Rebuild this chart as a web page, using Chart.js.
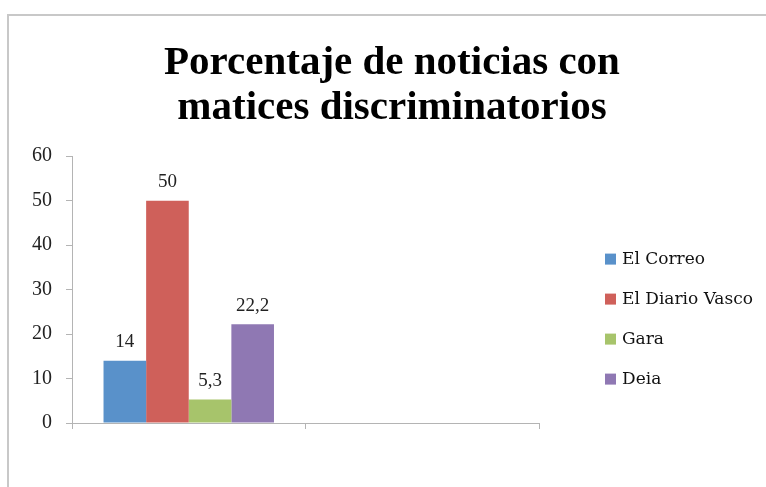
<!DOCTYPE html>
<html>
<head>
<meta charset="utf-8">
<script src="https://cdn.jsdelivr.net/npm/chart.js@4"></script>
<style>
  html, body { margin: 0; padding: 0; background: #fff; }
  #wrap { position: relative; width: 766px; height: 487px; }
  #frame { position: absolute; left: 7px; top: 14px; right: -4px; bottom: -4px;
           border-left: 2px solid #c8c8c8; border-top: 2px solid #c8c8c8; }
  canvas { position: absolute; left: 0; top: 0; }
</style>
</head>
<body>
<div id="wrap">
  <div id="frame"></div>
  <canvas id="chart" width="766" height="487"></canvas>
</div>
<script>
// data
const categories = ['', ''];
const seriesNames = ['El Correo', 'El Diario Vasco', 'Gara', 'Deia'];
const correo = [14, null];
const diarioVasco = [50, null];
const gara = [5.3, null];
const deia = [22.2, null];
const yTicks = [0, 10, 20, 30, 40, 50, 60];

const colors = ['#5991CA', '#CF605A', '#A7C46B', '#8F78B3'];
const serif = '"Liberation Serif", "DejaVu Serif", serif';

// values written above each bar, decimal comma
const valueLabels = {
    id: 'valueLabels',
    afterDatasetsDraw(chart) {
        const ctx = chart.ctx;
        ctx.save();
        ctx.font = '19px ' + serif;
        ctx.fillStyle = '#222';
        ctx.textAlign = 'center';
        ctx.textBaseline = 'bottom';
        chart.data.datasets.forEach((ds, i) => {
            const meta = chart.getDatasetMeta(i);
            meta.data.forEach((bar, j) => {
                const v = ds.data[j];
                if (v == null) return;
                ctx.fillText(String(v).replace('.', ','), bar.x, bar.y - 9);
            });
        });
        ctx.restore();
    }
};

// legend on the right, drawn by hand so it sits where the original has it
const sideLegend = {
    id: 'sideLegend',
    afterDraw(chart) {
        const ctx = chart.ctx;
        const x = chart.chartArea.right + 66;
        const yMid = (chart.chartArea.top + chart.chartArea.bottom) / 2 + 30;
        const step = 40;
        ctx.save();
        ctx.font = '17px "DejaVu Serif", serif';
        ctx.textBaseline = 'middle';
        chart.data.datasets.forEach((ds, i) => {
            const y = yMid + (i - 1.5) * step;
            ctx.fillStyle = ds.backgroundColor;
            ctx.fillRect(x, y - 6, 11, 11);
            ctx.fillStyle = '#111';
            ctx.fillText(ds.label, x + 17, y);
        });
        ctx.restore();
    }
};

const ctx = document.getElementById('chart').getContext('2d');
const chart = new Chart(ctx, {
    type: 'bar',
    data: {
        labels: categories,
        datasets: [correo, diarioVasco, gara, deia].map((d, i) => ({
            label: seriesNames[i],
            data: d,
            backgroundColor: colors[i],
            barPercentage: 1,
            categoryPercentage: 0.73
        }))
    },
    options: {
        responsive: false,
        animation: false,
        layout: { padding: { left: 18, right: 0, bottom: 58 } },
        plugins: {
            title: {
                display: true,
                text: ['Porcentaje de noticias con', 'matices discriminatorios'],
                color: '#000',
                font: { family: serif, size: 41, weight: 'bold', lineHeight: 1.1 },
                padding: { top: 41, bottom: 25 }
            },
            legend: { display: false },
            tooltip: { enabled: false }
        },
        scales: {
            x: {
                grid: { offset: true, drawOnChartArea: false, tickLength: 6, color: '#b4b4b4' },
                border: { color: '#b4b4b4' },
                ticks: { display: false }
            },
            y: {
                min: 0,
                max: 60,
                afterBuildTicks: (scale) => { scale.ticks = yTicks.map(v => ({ value: v })); },
                grid: { drawOnChartArea: false, tickLength: 6, color: '#b4b4b4' },
                border: { color: '#b4b4b4' },
                ticks: { color: '#222', font: { family: serif, size: 20 }, padding: 14 }
            },
            // empty axis on the right that keeps room for the legend
            spacer: {
                position: 'right',
                display: true,
                grid: { display: false },
                border: { display: false },
                ticks: { display: false },
                afterFit: (scale) => { scale.width = 227; }
            }
        }
    },
    plugins: [valueLabels, sideLegend]
});
</script>
</body>
</html>
